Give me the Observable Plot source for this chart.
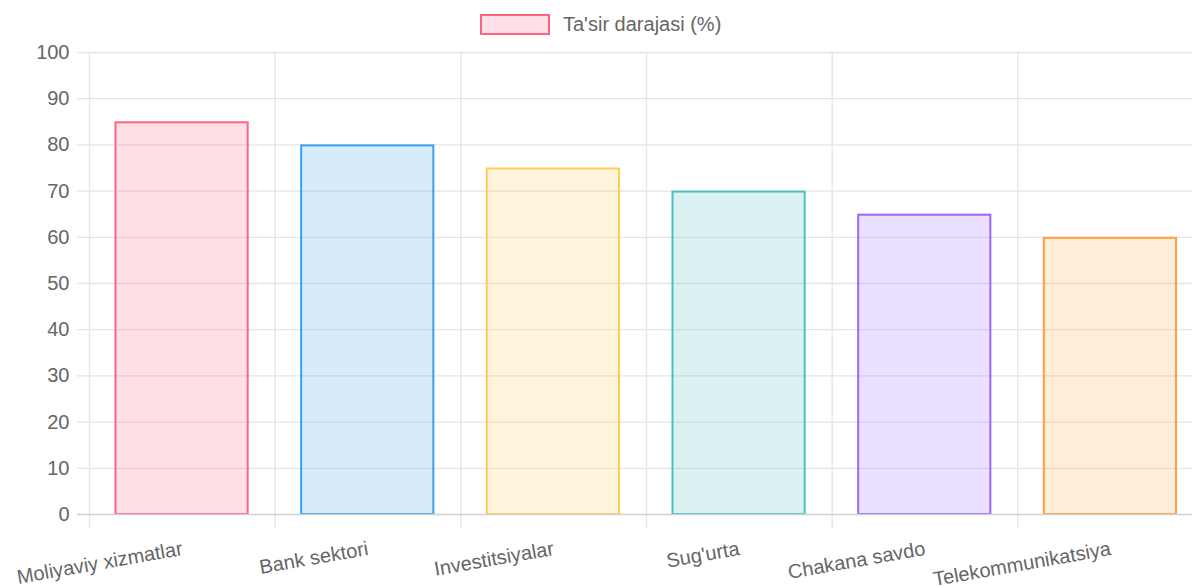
<!DOCTYPE html>
<html>
<head>
<meta charset="utf-8">
<script src="https://cdn.jsdelivr.net/npm/d3@7"></script>
<script src="https://cdn.jsdelivr.net/npm/@observablehq/plot@0.6"></script>
<style>
  html, body { margin: 0; padding: 0; background: #fff; overflow: hidden; width: 1192px; height: 586px; }
  #wrap { position: relative; width: 1210px; font-family: "Liberation Sans", Arial, Helvetica, sans-serif; }
  #legend { position: relative; height: 40px; }
  #legend .box { position: absolute; left: 480px; top: 14px; width: 66px; height: 17px; border: 2px solid rgb(255,99,132); background: rgba(255,99,132,0.2); }
  #legend .label { position: absolute; left: 563px; top: 12px; font-size: 20px; line-height: 24px; color: #666; white-space: nowrap; }
  svg { display: block; }
</style>
</head>
<body>
<div id="wrap">
  <div id="legend"><div class="box"></div><div class="label"></div></div>
  <div id="chart"></div>
</div>
<script>
const categories = ["Moliyaviy xizmatlar", "Bank sektori", "Investitsiyalar", "Sug'urta", "Chakana savdo", "Telekommunikatsiya"];
const values = [85, 80, 75, 70, 65, 60];
const borderColors = ["rgb(255,99,132)", "rgb(54,162,235)", "rgb(255,205,86)", "rgb(75,192,192)", "rgb(153,102,255)", "rgb(255,159,64)"];
const fillColors = ["rgba(255,99,132,0.2)", "rgba(54,162,235,0.2)", "rgba(255,205,86,0.2)", "rgba(75,192,192,0.2)", "rgba(153,102,255,0.2)", "rgba(255,159,64,0.2)"];
const yTicks = [0, 10, 20, 30, 40, 50, 60, 70, 80, 90, 100];
const seriesLabel = "Ta'sir darajasi (%)";

document.querySelector("#legend .label").textContent = seriesLabel;

const data = categories.map((c, i) => ({category: c, value: values[i], fill: fillColors[i], stroke: borderColors[i]}));

const W = 1210, H = 546, ML = 89, MR = 7, MT = 12, MB = 72;
const step = (W - ML - MR) / categories.length;
const inset = step * 0.14;

const chart = Plot.plot({
  width: W,
  height: H,
  marginTop: MT,
  marginBottom: MB,
  marginLeft: ML,
  marginRight: MR,
  style: {fontFamily: '"Liberation Sans", Arial, Helvetica, sans-serif', fontSize: "20px", color: "#666", background: "#fff", overflow: "visible"},
  x: {domain: categories, padding: 0, round: false, axis: null, label: null},
  y: {domain: [0, 100], axis: null, label: null},
  marks: [
    Plot.ruleY(yTicks.filter(t => t > 0), {y: d => d, stroke: "#e5e5e5", strokeWidth: 1.3, insetLeft: -12}),
    Plot.ruleX(categories, {x: d => d, dx: -step / 2, stroke: "#e5e5e5", strokeWidth: 1.3, insetBottom: -14}),
    Plot.barY(data, {x: "category", y: "value", fill: "fill", stroke: "stroke", strokeWidth: 2, insetLeft: inset + 0.5, insetRight: inset + 1, insetTop: 1}),
    Plot.ruleY([0], {y: d => d, stroke: "#d0d0d0", strokeWidth: 1.5, insetLeft: -12}),
    Plot.axisY({ticks: yTicks, tickSize: 0, tickPadding: 20, fill: "#666", fontSize: 20, label: null}),
    Plot.axisX({tickSize: 0, tickRotate: -10, tickPadding: 34, fill: "#666", fontSize: 20, label: null})
  ]
});
document.getElementById("chart").appendChild(chart);
</script>
</body>
</html>
